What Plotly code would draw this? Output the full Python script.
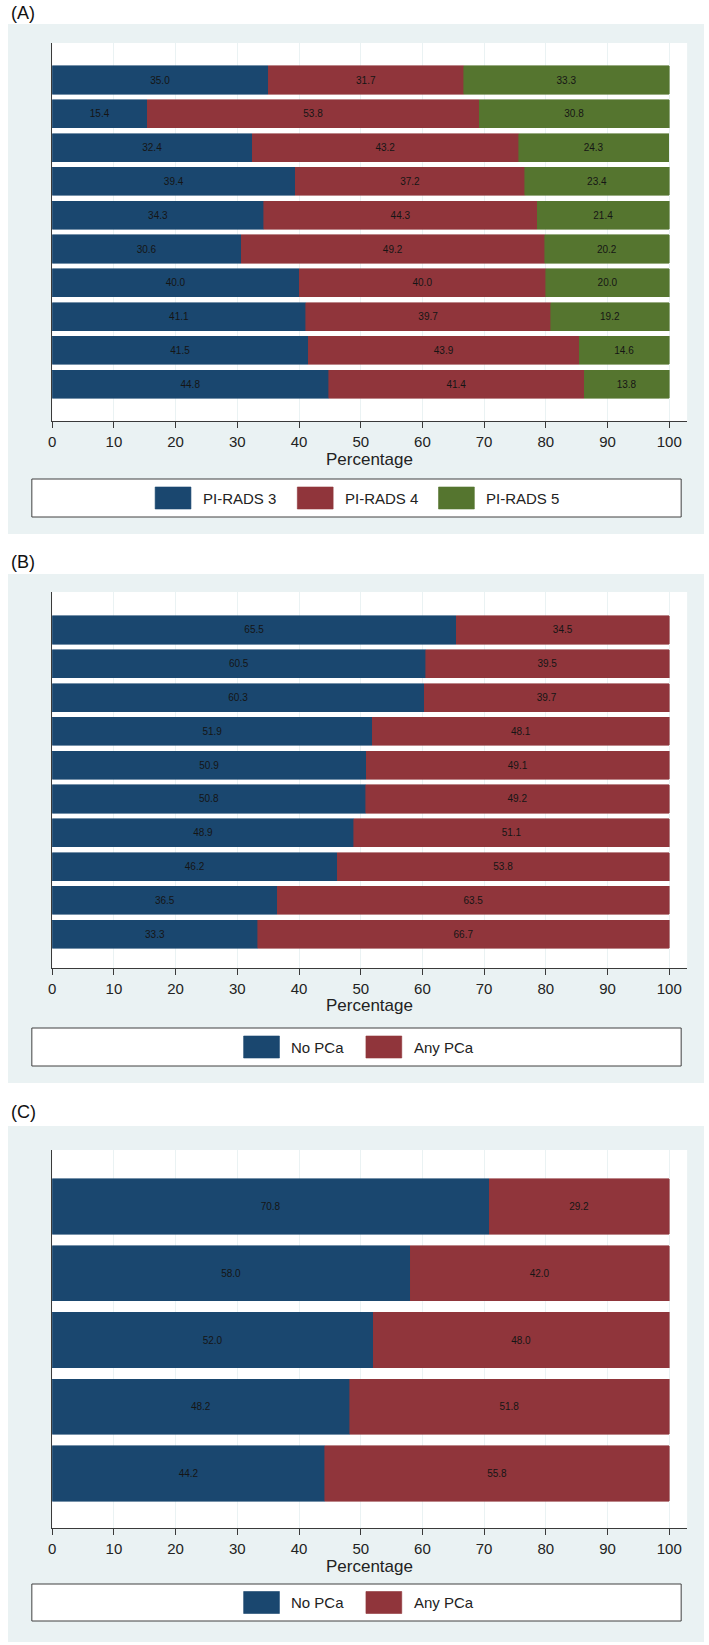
import plotly.graph_objects as go

# ---------------- data ----------------
groups_a = [f"Group {i}" for i in range(1, 11)]
pirads3 = [35.0, 15.4, 32.4, 39.4, 34.3, 30.6, 40.0, 41.1, 41.5, 44.8]
pirads4 = [31.7, 53.8, 43.2, 37.2, 44.3, 49.2, 40.0, 39.7, 43.9, 41.4]
pirads5 = [33.3, 30.8, 24.3, 23.4, 21.4, 20.2, 20.0, 19.2, 14.6, 13.8]

groups_b = [f"Group {i}" for i in range(1, 11)]
no_pca_b = [65.5, 60.5, 60.3, 51.9, 50.9, 50.8, 48.9, 46.2, 36.5, 33.3]
any_pca_b = [34.5, 39.5, 39.7, 48.1, 49.1, 49.2, 51.1, 53.8, 63.5, 66.7]

groups_c = [f"Group {i}" for i in range(1, 6)]
no_pca_c = [70.8, 58.0, 52.0, 48.2, 44.2]
any_pca_c = [29.2, 42.0, 48.0, 51.8, 55.8]

x_ticks = [0, 10, 20, 30, 40, 50, 60, 70, 80, 90, 100]
x_title = "Percentage"
panel_labels = ["(A)", "(B)", "(C)"]
names_a = ["PI-RADS 3", "PI-RADS 4", "PI-RADS 5"]
names_bc = ["No PCa", "Any PCa"]

# ---------------- style ----------------
W, H = 709, 1645
NAVY = "#1A476F"
MAROON = "#90353B"
GREEN = "#55752F"
BG = "#EAF2F3"
AXC = "#3a3a3a"
FONT = "Liberation Sans, Arial, sans-serif"

def px(v):
    return v / W

def py(v):
    return 1 - v / H

X0, X100, XR = 48.5, 669.0, 687.0
xmax = (XR - X0) / ((X100 - X0) / 100.0)

panels = [
    dict(label_y=13, bg=(24, 534), plot=(43, 421), yrange=[10.089, -1.095],
         legend=(479, 517), cats=groups_a,
         series=[(names_a[0], pirads3, NAVY), (names_a[1], pirads4, MAROON), (names_a[2], pirads5, GREEN)],
         sw_x=[152, 295, 437]),
    dict(label_y=562, bg=(574, 1083), plot=(592, 968), yrange=[10.0, -1.124],
         legend=(1028, 1066), cats=groups_b,
         series=[(names_bc[0], no_pca_b, NAVY), (names_bc[1], any_pca_b, MAROON)],
         sw_x=[241, 364]),
    dict(label_y=1112, bg=(1126, 1642), plot=(1150, 1528), yrange=[4.816, -0.846],
         legend=(1584, 1621), cats=groups_c,
         series=[(names_bc[0], no_pca_c, NAVY), (names_bc[1], any_pca_c, MAROON)],
         sw_x=[241, 364]),
]

fig = go.Figure()
shapes = []
annotations = []

for i, p in enumerate(panels):
    n = "" if i == 0 else str(i + 1)
    xa, ya = "x" + n, "y" + n
    # panel background
    shapes.append(dict(type="rect", xref="paper", yref="paper", layer="below",
                       x0=px(4), x1=px(704), y0=py(p["bg"][1]), y1=py(p["bg"][0]),
                       fillcolor=BG, line=dict(width=0)))
    # plot region white
    shapes.append(dict(type="rect", xref="paper", yref="paper", layer="below",
                       x0=px(X0), x1=px(XR), y0=py(p["plot"][1]), y1=py(p["plot"][0]),
                       fillcolor="white", line=dict(width=0)))
    # bars
    for name, vals, col in p["series"]:
        fig.add_trace(go.Bar(
            y=p["cats"], x=vals, name=name, orientation="h",
            marker=dict(color=col, line=dict(color=col, width=0.6)),
            width=0.83, text=vals, texttemplate="%{x:.1f}",
            textposition="inside", insidetextanchor="middle", textangle=0,
            constraintext="none",
            textfont=dict(size=10, color="#151515", family=FONT),
            xaxis=xa, yaxis=ya, showlegend=False,
        ))
    xkey = "xaxis" + n
    ykey = "yaxis" + n
    fig.update_layout(**{
        xkey: dict(domain=[px(X0), px(XR)], range=[0, xmax], anchor=ya,
                   tickvals=x_ticks, ticks="outside", ticklen=6, tickcolor=AXC,
                   tickwidth=1, showline=True, linecolor=AXC, linewidth=1,
                   showgrid=True, gridcolor=BG, gridwidth=1, zeroline=False,
                   ticklabelstandoff=1,
                   tickfont=dict(size=15, color="#222", family=FONT)),
        ykey: dict(domain=[py(p["plot"][1]), py(p["plot"][0])], range=p["yrange"],
                   anchor=xa, type="category", categoryorder="array",
                   categoryarray=p["cats"], showticklabels=False, ticks="",
                   showgrid=False, showline=True, linecolor=AXC, linewidth=1,
                   zeroline=False),
    })
    # panel label
    annotations.append(dict(text=panel_labels[i], xref="paper", yref="paper",
                            x=px(5), y=py(p["label_y"]), xanchor="left", yanchor="middle",
                            showarrow=False, font=dict(size=18, color="#111", family=FONT)))
    # axis title
    annotations.append(dict(text=x_title, xref="paper", yref="paper",
                            x=px((X0 + XR) / 2), y=py(p["plot"][1] + 38),
                            xanchor="center", yanchor="middle", showarrow=False,
                            font=dict(size=17, color="#222", family=FONT)))
    # legend box
    ly0, ly1 = p["legend"]
    shapes.append(dict(type="rect", xref="paper", yref="paper",
                       x0=px(28), x1=px(681), y0=py(ly1), y1=py(ly0),
                       fillcolor="white", line=dict(color="#404040", width=1)))
    lc = (ly0 + ly1) / 2
    for (name, vals, col), sx in zip(p["series"], p["sw_x"]):
        shapes.append(dict(type="rect", xref="paper", yref="paper",
                           x0=px(sx), x1=px(sx + 36), y0=py(lc + 11), y1=py(lc - 11),
                           fillcolor=col, line=dict(color=col, width=0.6)))
        annotations.append(dict(text=name, xref="paper", yref="paper",
                                x=px(sx + 46), y=py(lc), xanchor="left", yanchor="middle",
                                showarrow=False, font=dict(size=15, color="#222", family=FONT)))

fig.update_layout(
    width=W, height=H, margin=dict(l=0, r=0, t=0, b=0),
    paper_bgcolor="white", plot_bgcolor="rgba(0,0,0,0)",
    barmode="stack", bargap=0.17, showlegend=False,
    shapes=shapes, annotations=annotations,
    font=dict(family=FONT),
)

fig.write_html(
    "out.html",
    config={"displayModeBar": False},
    post_script="document.body.style.margin='0px';document.body.style.padding='0px';"
                "document.documentElement.style.overflow='hidden';",
)
